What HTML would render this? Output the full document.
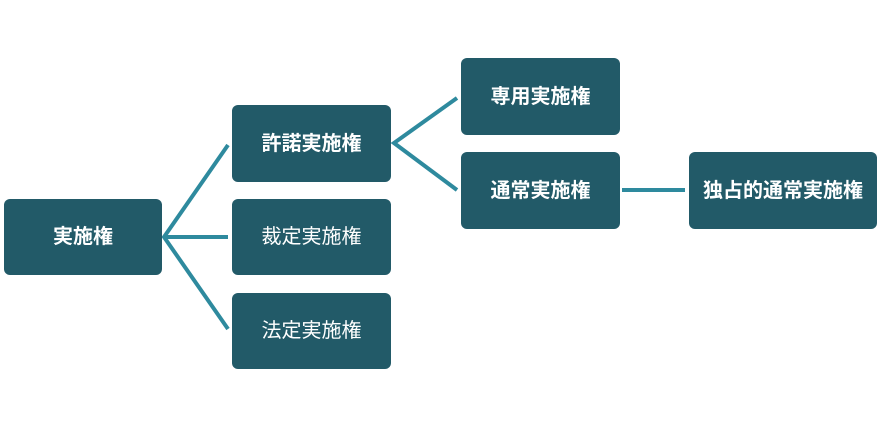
<!DOCTYPE html>
<html><head><meta charset="utf-8"><style>
body{margin:0;width:885px;height:429px;background:#fff;position:relative;overflow:hidden;font-family:"Liberation Sans","Noto Sans CJK JP",sans-serif}
.b{position:absolute;background:#225a68;border-radius:6px;color:#fff;font-size:20px;display:flex;align-items:center;justify-content:center;box-sizing:border-box;padding-bottom:5px}
.n{font-weight:normal}.s{font-weight:bold}
svg{position:absolute;left:0;top:0}
</style></head><body>
<svg width="885" height="429"><g stroke="#2e8a9e" stroke-width="4" fill="none">
<polyline points="228,145 164,237 228,329"/><line x1="164" y1="237" x2="228" y2="237"/>
<polyline points="457,98 394,143 457,190"/><line x1="622" y1="190" x2="685" y2="190"/>
</g></svg>
<div class="b s" style="left:4px;top:199px;width:158px;height:76px">実施権</div>
<div class="b s" style="left:232px;top:105px;width:159px;height:77px">許諾実施権</div>
<div class="b n" style="left:232px;top:199px;width:159px;height:76px">裁定実施権</div>
<div class="b n" style="left:232px;top:293px;width:159px;height:76px">法定実施権</div>
<div class="b s" style="left:461px;top:58px;width:159px;height:77px">専用実施権</div>
<div class="b s" style="left:461px;top:152px;width:159px;height:77px">通常実施権</div>
<div class="b s" style="left:689px;top:152px;width:188px;height:77px">独占的通常実施権</div>
</body></html>
